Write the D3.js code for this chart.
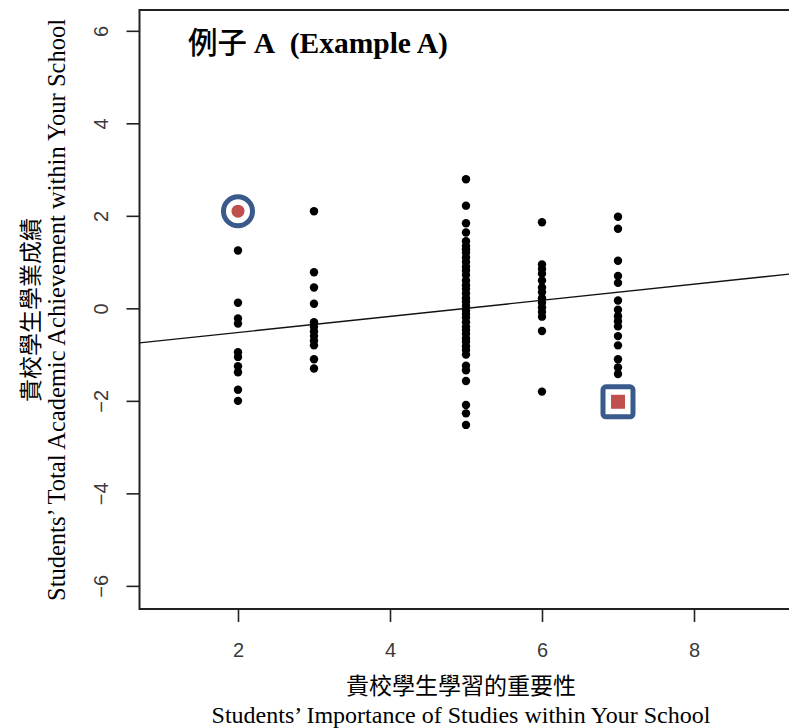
<!DOCTYPE html>
<html>
<head>
<meta charset="utf-8">
<script src="https://cdn.jsdelivr.net/npm/d3@7"></script>
<style>
  html, body { margin: 0; padding: 0; background: #fff; }
  svg { display: block; }
</style>
</head>
<body>
<svg id="chart" width="789" height="728"></svg>
<script>
// Importance rating groups and the achievement scores observed in each group
const importanceLevels = [2, 3, 5, 6, 7];
const scoresAt2 = [1.25, 0.12, -0.22, -0.33, -0.95, -1.05, -1.25, -1.38, -1.76, -2.0];
const scoresAt3 = [2.1, 0.78, 0.45, 0.1, -0.3, -0.4, -0.5, -0.6, -0.7, -0.8, -1.1, -1.3];
const scoresAt5 = [2.79, 2.22, 1.84, 1.64, 1.45, 1.35, 1.28, 1.2, 1.1, 1.0, 0.9, 0.82, 0.72,
                   0.6, 0.5, 0.42, 0.32, 0.22, 0.14, 0.05, -0.05, -0.12, -0.2, -0.3, -0.4,
                   -0.47, -0.55, -0.65, -0.72, -0.82, -0.9, -1.0, -1.24, -1.34, -1.57,
                   -2.09, -2.27, -2.52];
const scoresAt6 = [1.86, 0.95, 0.85, 0.75, 0.6, 0.45, 0.35, 0.22, 0.12, 0.02, -0.08, -0.18, -0.49, -1.8];
const scoresAt7 = [1.98, 1.72, 1.03, 0.7, 0.55, 0.17, -0.03, -0.17, -0.28, -0.39, -0.6, -0.8, -1.1, -1.28, -1.42];
const scoreGroups = [scoresAt2, scoresAt3, scoresAt5, scoresAt6, scoresAt7];

// Two highlighted schools: [importance, achievement]
const circledPoint = [2, 2.1];
const squaredPoint = [7, -2.02];

// Fitted regression line: achievement = intercept + slope * importance
const fitIntercept = -0.87;
const fitSlope = 0.174;

const xTicks = [2, 4, 6, 8];
const yTicks = [-6, -4, -2, 0, 2, 4, 6];

const titleEn = "(Example A)";
const xTitleCn = "貴校學生學習的重要性";
const xTitleEn = "Students’ Importance of Studies within Your School";
const yTitleCn = "貴校學生學業成績";
const yTitleEn = "Students’ Total Academic Achievement within Your School";

const svg = d3.select("#chart");

const plotLeft = 139.5, plotTop = 10, plotBottom = 609, plotRight = 800.7;

const x = d3.scaleLinear().domain([0.704, 9.404]).range([plotLeft, plotRight]);
const y = d3.scaleLinear().domain([-6.5, 6.45]).range([plotBottom, plotTop]);

const serif = "'Liberation Serif', 'Times New Roman', serif";
const cjk = "'Noto Sans CJK TC', 'Noto Sans CJK SC', sans-serif";
const tickFont = "'Liberation Sans', Arial, sans-serif";

svg.append("defs").append("clipPath").attr("id", "plotClip")
  .append("rect")
  .attr("x", plotLeft).attr("y", plotTop)
  .attr("width", plotRight - plotLeft).attr("height", plotBottom - plotTop);

// Bottom axis
const xAxis = svg.append("g")
  .attr("transform", `translate(0,${plotBottom})`)
  .call(d3.axisBottom(x).tickValues(xTicks).tickSize(13).tickPadding(21).tickFormat(d3.format("d")));
xAxis.select(".domain").remove();
xAxis.selectAll(".tick line").attr("stroke", "#222").attr("stroke-width", 1.6);
xAxis.selectAll(".tick text")
  .attr("font-family", tickFont).attr("font-size", 20).attr("fill", "#3a3a3a");

// Left axis with rotated labels
const yAxis = svg.append("g")
  .attr("transform", `translate(${plotLeft},0)`)
  .call(d3.axisLeft(y).tickValues(yTicks).tickSize(13).tickFormat(d3.format("d")));
yAxis.select(".domain").remove();
yAxis.selectAll(".tick line").attr("stroke", "#222").attr("stroke-width", 1.6);
yAxis.selectAll(".tick text")
  .attr("font-family", tickFont).attr("font-size", 20).attr("fill", "#3a3a3a")
  .attr("x", null).attr("y", 0)
  .attr("text-anchor", "middle")
  .attr("transform", "translate(-39,0) rotate(-90)")
  .attr("dy", "0.35em");

// Plot frame (right side runs past the edge of the page)
svg.append("path")
  .attr("d", `M${plotRight + 20},${plotTop} H${plotLeft} V${plotBottom} H${plotRight + 20}`)
  .attr("fill", "none").attr("stroke", "#222").attr("stroke-width", 2);

const plot = svg.append("g").attr("clip-path", "url(#plotClip)");

// Regression line
const [x0, x1] = x.domain();
plot.append("line")
  .attr("x1", x(x0)).attr("y1", y(fitIntercept + fitSlope * x0))
  .attr("x2", x(x1)).attr("y2", y(fitIntercept + fitSlope * x1))
  .attr("stroke", "#111").attr("stroke-width", 1.4);

// Scatter points
const points = importanceLevels.flatMap((lvl, i) => scoreGroups[i].map(v => [lvl, v]));
plot.selectAll("circle.pt").data(points).join("circle")
  .attr("class", "pt")
  .attr("cx", d => x(d[0])).attr("cy", d => y(d[1]))
  .attr("r", 4.2).attr("fill", "#000");

// Highlighted schools
const ringBlue = "#3a5a8c", markRed = "#c0504d";
plot.append("circle")
  .attr("cx", x(circledPoint[0])).attr("cy", y(circledPoint[1]))
  .attr("r", 14.5).attr("fill", "#fff").attr("stroke", ringBlue).attr("stroke-width", 5);
plot.append("circle")
  .attr("cx", x(circledPoint[0])).attr("cy", y(circledPoint[1]))
  .attr("r", 6.5).attr("fill", markRed);

plot.append("rect")
  .attr("x", x(squaredPoint[0]) - 15).attr("y", y(squaredPoint[1]) - 15)
  .attr("width", 30).attr("height", 30).attr("rx", 3)
  .attr("fill", "#fff").attr("stroke", ringBlue).attr("stroke-width", 5);
plot.append("rect")
  .attr("x", x(squaredPoint[0]) - 7).attr("y", y(squaredPoint[1]) - 7)
  .attr("width", 14).attr("height", 14)
  .attr("fill", markRed);

// Title inside the plot
const title = svg.append("text")
  .attr("x", 188).attr("y", 53)
  .attr("font-size", 29.5).attr("fill", "#000");
title.append("tspan").attr("font-family", cjk).attr("font-weight", 500).text("例子 ");
title.append("tspan").attr("font-family", serif).attr("font-weight", "bold").text("A\u00a0 " + titleEn);

// Axis titles
const xMid = 461;
svg.append("text").attr("x", xMid).attr("y", 694)
  .attr("text-anchor", "middle").attr("font-family", cjk).attr("font-weight", 400)
  .attr("font-size", 23).attr("fill", "#000").text(xTitleCn);
svg.append("text").attr("x", xMid).attr("y", 723)
  .attr("text-anchor", "middle").attr("font-family", serif)
  .attr("font-size", 24).attr("fill", "#000").text(xTitleEn);

const yMid = 310;
svg.append("text")
  .attr("transform", `translate(39,${yMid}) rotate(-90)`)
  .attr("text-anchor", "middle").attr("font-family", cjk).attr("font-weight", 400)
  .attr("font-size", 23).attr("fill", "#000").text(yTitleCn);
svg.append("text")
  .attr("transform", `translate(65,${yMid}) rotate(-90)`)
  .attr("text-anchor", "middle").attr("font-family", serif)
  .attr("font-size", 24.5).attr("fill", "#000").text(yTitleEn);
</script>
</body>
</html>
